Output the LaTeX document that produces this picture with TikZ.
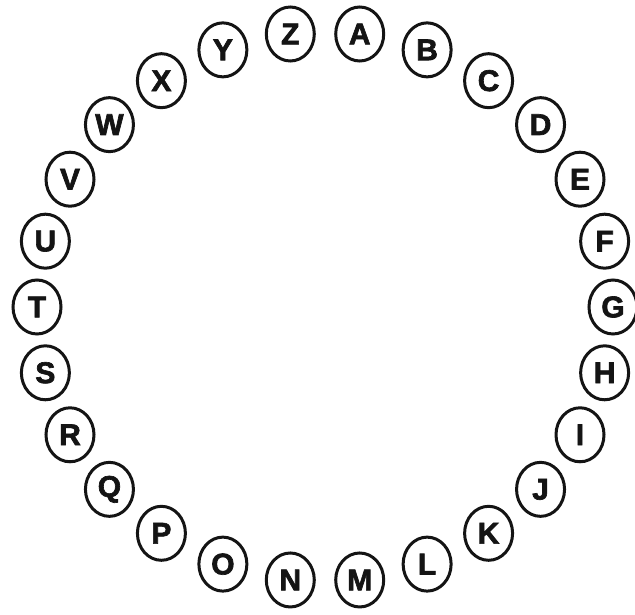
\documentclass[tikz,border=0pt]{standalone}
\usepackage{fontspec}
\setmainfont{Liberation Sans}
\newfontfamily\ringfont[FakeBold=2.2]{Liberation Sans Bold}
\usetikzlibrary{shapes.geometric}
\definecolor{ringink}{RGB}{20,20,20}
\tikzset{
    letterring/.style={ellipse,draw=ringink,line width=3pt,minimum width=48pt,minimum height=54pt,inner sep=0pt,text=ringink,font=\ringfont\fontsize{30}{30}\selectfont},
    pagebox/.style={draw=none,fill=white}
}

\begin{document}
\begin{tikzpicture}[x=1pt,y=1pt]
    % Page
    \fill[pagebox] (0,0) rectangle (635,615);
    \useasboundingbox (0,0) rectangle (635,615);
    % Centre of the ring
    \coordinate (ctr) at (325,308);
    % Letters, clockwise from A
    \begin{scope}[shift={(ctr)}]
        \foreach \l [count=\i from 0] in {A,B,C,D,E,F,G,H,I,J,K,L,M,N,O,P,Q,R,S,T,U,V,W,X,Y,Z} {
            \pgfmathsetmacro{\ang}{90-360/52-\i*360/26}
            \node[letterring] (\l) at (\ang:288 and 275) {\l};
        }
    \end{scope}
\end{tikzpicture}
\end{document}
